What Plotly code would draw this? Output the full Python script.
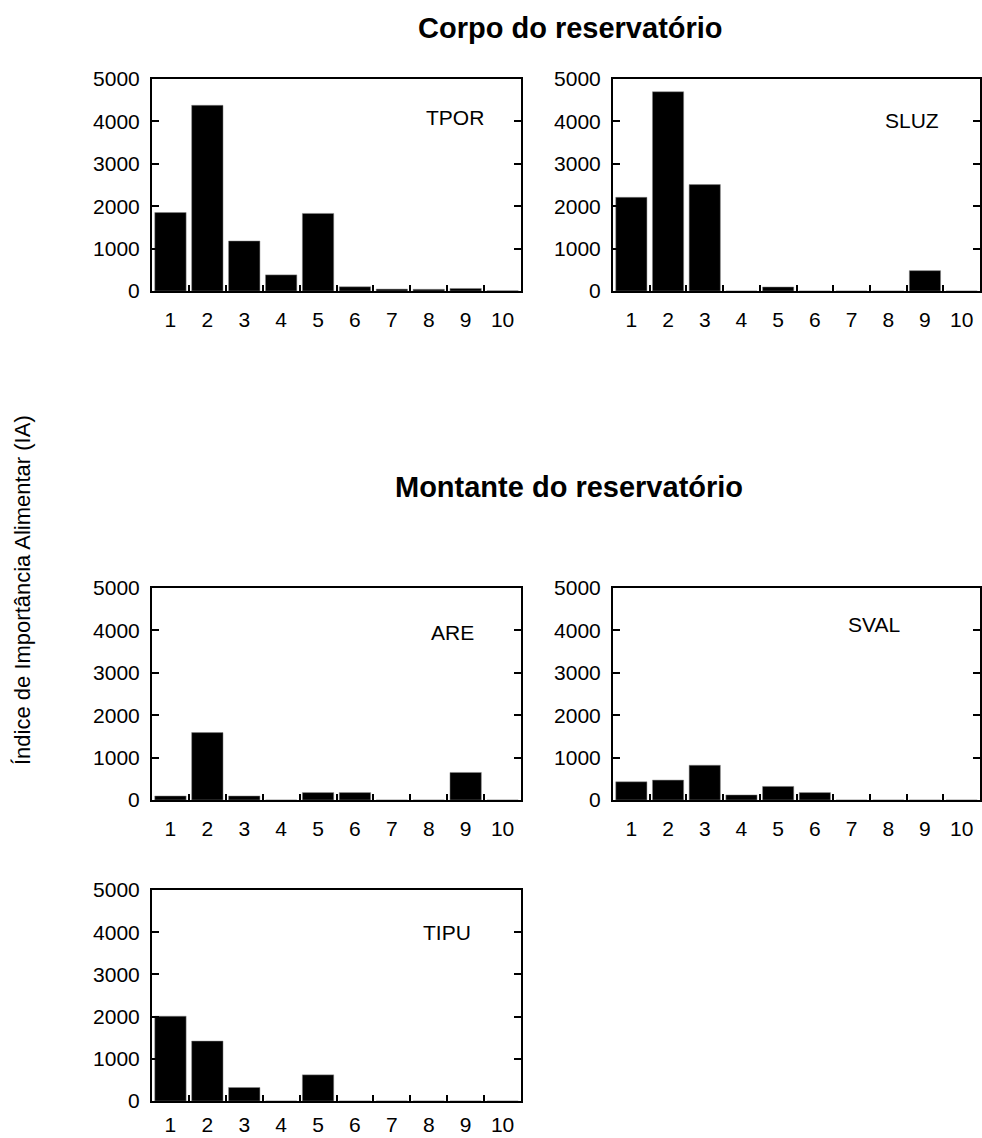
import plotly.graph_objects as go

categories = [1, 2, 3, 4, 5, 6, 7, 8, 9, 10]
tpor = [1850, 4380, 1180, 380, 1830, 100, 45, 40, 60, 5]
sluz = [2210, 4700, 2510, 0, 95, 0, 0, 0, 480, 0]
are_ = [95, 1590, 95, 0, 175, 175, 0, 0, 650, 0]
sval = [430, 470, 820, 120, 320, 175, 0, 0, 0, 0]
tipu = [2010, 1420, 320, 0, 620, 0, 0, 0, 0, 0]
panel_names = ["TPOR", "SLUZ", "ARE", "SVAL", "TIPU"]
y_ticks = [0, 1000, 2000, 3000, 4000, 5000]
titles = ["Corpo do reservatório", "Montante do reservatório"]
y_title = "Índice de Importância Alimentar (IA)"

W, H = 982, 1138
FONT = "Liberation Sans, Arial, Helvetica, sans-serif"

def px_x(a, b):
    return [a / W, b / W]

def px_y(top, bottom):
    return [1 - bottom / H, 1 - top / H]

panels = [
    (tpor, px_x(152, 521), px_y(79, 291), (0.82, 0.82), 9),
    (sluz, px_x(613, 980), px_y(79, 291), (0.815, 0.805), 9),
    (are_, px_x(152, 521), px_y(588, 800), (0.815, 0.79), 9),
    (sval, px_x(613, 980), px_y(588, 800), (0.71, 0.83), 9),
    (tipu, px_x(152, 521), px_y(890, 1101), (0.80, 0.80), 4),
]

fig = go.Figure()
layout = dict(
    width=W, height=H,
    margin=dict(l=0, r=0, t=0, b=0, autoexpand=False),
    paper_bgcolor="white", plot_bgcolor="white",
    showlegend=False,
    font=dict(family=FONT, size=21, color="black"),
    annotations=[],
)

for i, (vals, xd, yd, (ax_, ay_), stand) in enumerate(panels):
    n = "" if i == 0 else str(i + 1)
    fig.add_trace(go.Bar(
        x=categories, y=vals, width=0.85,
        marker=dict(color="black", line=dict(color="#888888", width=0.5)),
        xaxis="x" + n, yaxis="y" + n,
    ))
    layout["xaxis" + n] = dict(
        domain=xd, anchor="y" + n, range=[0.5, 10.5], automargin=False,
        tickmode="array", tickvals=categories, ticktext=[str(c) for c in categories],
        ticks="", showgrid=False, zeroline=False,
        showline=True, linecolor="black", linewidth=2, mirror=True,
        tickfont=dict(size=21), ticklabelstandoff=stand,
        minor=dict(tickmode="array", tickvals=[c + 0.5 for c in categories[:-1]],
                   ticks="inside", ticklen=6, tickwidth=1.5, tickcolor="black",
                   showgrid=False),
        fixedrange=True,
    )
    layout["yaxis" + n] = dict(
        domain=yd, anchor="x" + n, range=[0, 5000], automargin=False,
        tickmode="array", tickvals=y_ticks,
        ticks="inside", ticklen=7, tickwidth=1.5, tickcolor="black",
        showgrid=False, zeroline=False,
        showline=True, linecolor="black", linewidth=2, mirror="ticks",
        tickfont=dict(size=21), ticklabelstandoff=6,
        fixedrange=True,
    )
    layout["annotations"].append(dict(
        text=panel_names[i], xref="x" + n + " domain", yref="y" + n + " domain",
        x=ax_, y=ay_, showarrow=False, font=dict(size=21),
        xanchor="center", yanchor="middle",
    ))

layout["annotations"] += [
    dict(text="<b>" + titles[0] + "</b>", xref="paper", yref="paper",
         x=570 / W, y=1 - 28 / H, showarrow=False, font=dict(size=29),
         xanchor="center", yanchor="middle"),
    dict(text="<b>" + titles[1] + "</b>", xref="paper", yref="paper",
         x=569 / W, y=1 - 487 / H, showarrow=False, font=dict(size=29),
         xanchor="center", yanchor="middle"),
    dict(text=y_title, xref="paper", yref="paper",
         x=22 / W, y=1 - 590 / H, showarrow=False, font=dict(size=22),
         textangle=-90, xanchor="center", yanchor="middle"),
]

fig.update_layout(**layout)
fig.write_html("out.html")
